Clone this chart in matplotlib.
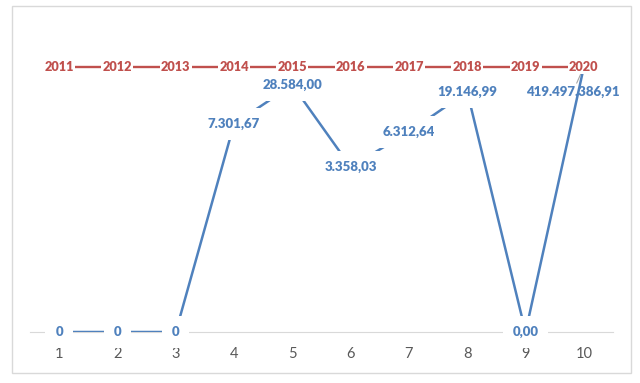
import matplotlib.pyplot as plt
from matplotlib.patches import Rectangle

# data
categories = [1, 2, 3, 4, 5, 6, 7, 8, 9, 10]
years = [2011, 2012, 2013, 2014, 2015, 2016, 2017, 2018, 2019, 2020]
year_level = [100, 100, 100, 100, 100, 100, 100, 100, 100, 100]
amount_labels = ['0', '0', '0', '7.301,67', '28.584,00', '3.358,03',
                 '6.312,64', '19.146,99', '0,00', '419.497.386,91']
amount_level = [0, 0, 0, 78.5, 93.2, 62.3, 75.5, 90.6, 0, 100]

blue = '#4F81BD'
red = '#C0504D'

fig = plt.figure(figsize=(6.4, 3.83), dpi=100)
fig.patches.append(Rectangle((12/640, 10/383), 619/640, 367/383, transform=fig.transFigure,
                             fill=False, edgecolor='#D9D9D9', linewidth=1))
ax = fig.add_axes([30/640, 51/383, 583/640, 265*1.1/383])

ax.plot(categories, amount_level, color=blue, linewidth=1.8, zorder=2, solid_capstyle='butt')
ax.plot(categories, year_level, color=red, linewidth=1.7, zorder=3, solid_capstyle='butt')

lbl = dict(fontfamily='Lato', fontweight='heavy', ha='center', va='center')
blue_box = dict(boxstyle='square,pad=0.75', facecolor='white', edgecolor='none')
red_box = dict(boxstyle='square,pad=0.1', facecolor='white', edgecolor='none')

for x, y, t in zip(categories[:-1], amount_level[:-1], amount_labels[:-1]):
    ax.text(x, y, t, color=blue, bbox=blue_box, zorder=5, fontsize=9.5, **lbl)

# last label was moved off its point in the original, with a leader line
ax.annotate(amount_labels[-1], xy=(categories[-1], amount_level[-1]),
            xytext=(-8, -18), textcoords='offset points', color=blue, zorder=1,
            fontsize=9.5,
            arrowprops=dict(arrowstyle='-', color='#A6A6A6', lw=0.8, shrinkA=0, shrinkB=0),
            **lbl)

for x, y, t in zip(categories, year_level, years):
    ax.text(x, y, str(t), color=red, bbox=red_box, zorder=6, fontsize=9.2, **lbl)

ax.set_xlim(0.5, 10.5)
ax.set_ylim(0, 110)
ax.set_xticks(categories)
ax.set_yticks([])
ax.tick_params(axis='x', length=0, pad=11, labelsize=10.5, labelcolor='#595959')
for t in ax.get_xticklabels():
    t.set_fontfamily('Lato')
for s in ['top', 'right', 'left']:
    ax.spines[s].set_visible(False)
ax.spines['bottom'].set_color('#D9D9D9')
ax.spines['bottom'].set_zorder(0)

fig.savefig('out.png', dpi=100)
